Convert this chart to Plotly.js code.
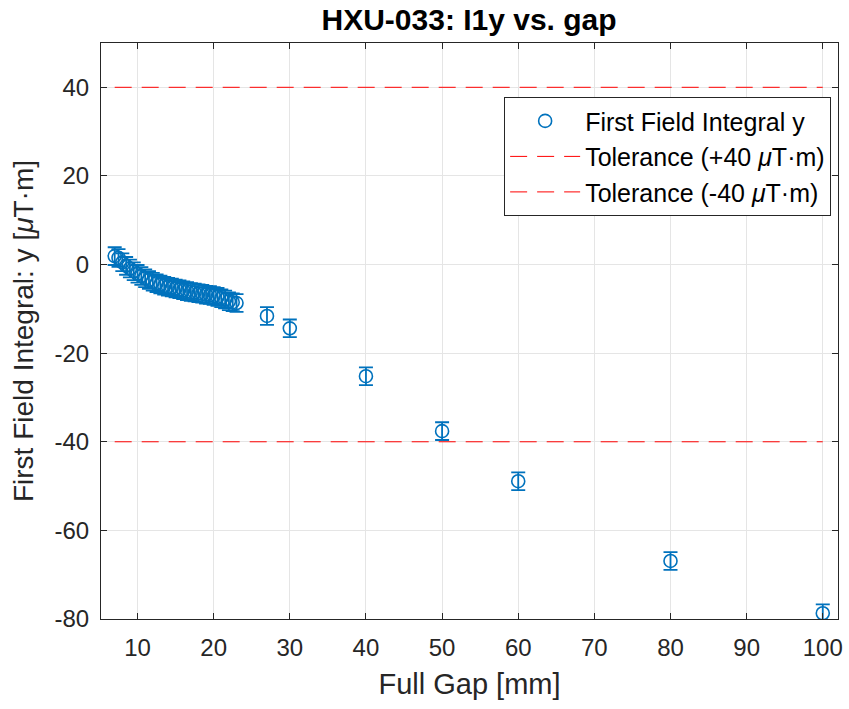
<!DOCTYPE html>
<html>
<head>
<meta charset="utf-8">
<script src="https://cdn.plot.ly/plotly-3.0.1.min.js"></script>
<style>html,body{margin:0;padding:0;background:#fff;}#chart{width:849px;height:709px;}</style>
</head>
<body>
<div id="chart"></div>
<script>
const gap = [7,7.5,8,8.5,9,9.5,10,10.5,11,11.5,12,12.5,13,13.5,14,14.5,15,15.5,16,16.5,17,17.5,18,18.5,19,19.5,20,20.5,21,21.5,22,22.5,23,27,30,40,50,60,80,100];
const I1y = [1.9,1.5,0.5,-0.3,-0.9,-1.5,-2.1,-2.6,-3.1,-3.5,-3.9,-4.2,-4.5,-4.8,-5.0,-5.2,-5.4,-5.6,-5.8,-6.0,-6.2,-6.3,-6.5,-6.6,-6.8,-6.9,-7.1,-7.3,-7.6,-7.9,-8.3,-8.5,-8.7,-11.6,-14.4,-25.2,-37.6,-48.9,-66.9,-78.7];
const I1yErr = [2,2,2,2,2,2,2,2,2,2,2,2,2,2,2,2,2,2,2,2,2,2,2,2,2,2,2,2,2,2,2,2,2,2,2,2,2,2,2,2];
const xRange = [5.2, 102];
const yRange = [-80, 50];
const tolUpper = 40;
const tolLower = -40;
const xTicks = [10,20,30,40,50,60,70,80,90,100];
const yTicks = [-80,-60,-40,-20,0,20,40];

const blue = '#0072BD';
const font = 'Liberation Sans, Arial, Helvetica, sans-serif';
const tolX = [Math.min(...gap), Math.max(...gap)];

const traces = [
  {
    x: gap, y: I1y, type: 'scatter', mode: 'markers',
    name: 'First Field Integral y',
    marker: {symbol: 'circle-open', size: 13, color: blue, line: {width: 1.6, color: blue}},
    error_y: {type: 'data', array: I1yErr, visible: true, color: blue, thickness: 1.8, width: 7}
  },
  {
    x: tolX, y: [tolUpper, tolUpper], type: 'scatter', mode: 'lines',
    name: 'Tolerance (+40 <i>μ</i>T·m)',
    line: {color: '#FF0000', width: 1, dash: '17px,10px'}
  },
  {
    x: tolX, y: [tolLower, tolLower], type: 'scatter', mode: 'lines',
    name: 'Tolerance (-40 <i>μ</i>T·m)',
    line: {color: '#FF0000', width: 1, dash: '17px,10px'}
  }
];

const axisCommon = {
  showline: true, linecolor: '#262626', linewidth: 1, mirror: 'ticks',
  ticks: 'inside', ticklen: 6, tickcolor: '#262626', tickwidth: 1,
  showgrid: true, gridcolor: '#E5E5E5', gridwidth: 1, zeroline: false,
  tickfont: {family: font, size: 24, color: '#262626'}
};

const layout = {
  width: 849, height: 709,
  margin: {l: 101, r: 11, t: 43, b: 90},
  paper_bgcolor: '#fff', plot_bgcolor: '#fff',
  title: {text: '<b>HXU-033: I1y vs. gap</b>', x: 0.5525, xanchor: 'center', y: 0.972, yanchor: 'middle',
          font: {family: font, size: 30, color: '#000'}},
  xaxis: Object.assign({}, axisCommon, {
    range: xRange, tickvals: xTicks, ticktext: xTicks.map(String), ticklabelstandoff: 7,
    title: {text: 'Full Gap [mm]', font: {family: font, size: 29, color: '#262626'}, standoff: 13}
  }),
  yaxis: Object.assign({}, axisCommon, {
    range: yRange, tickvals: yTicks, ticktext: yTicks.map(String), ticklabelstandoff: 6,
    title: {text: 'First Field Integral: y [<i>μ</i>T·m]', font: {family: font, size: 28, color: '#262626'}, standoff: 12}
  }),
  showlegend: true,
  legend: {
    x: 0.547, y: 0.906, xanchor: 'left', yanchor: 'top',
    bgcolor: '#fff', bordercolor: '#262626', borderwidth: 1,
    font: {family: font, size: 25, color: '#000'},
    itemwidth: 70
  }
};

Plotly.newPlot('chart', traces, layout, {staticPlot: true, displayModeBar: false});
</script>
</body>
</html>
